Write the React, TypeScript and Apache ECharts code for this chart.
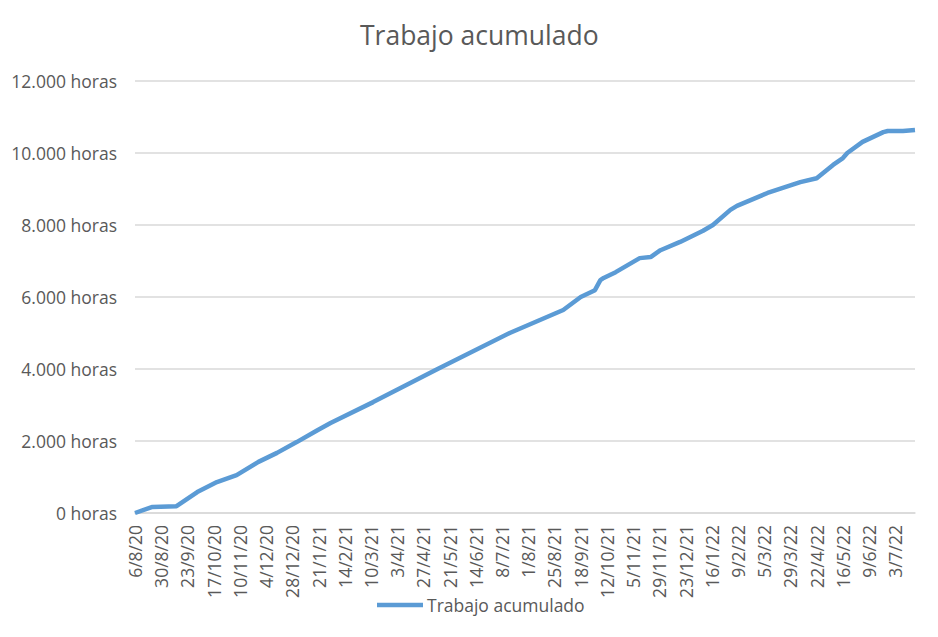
import React, { useEffect, useRef } from "react";
import * as echarts from "echarts";

const seriesName = "Trabajo acumulado";
const startDate = "2020-08-06";
const dates = [
  "2020-08-06", "2020-08-22", "2020-09-13", "2020-10-02", "2020-10-20", "2020-11-07",
  "2020-11-27", "2020-12-14", "2021-01-01", "2021-01-20", "2021-02-01", "2021-03-12",
  "2021-05-10", "2021-07-15", "2021-09-02", "2021-09-18", "2021-10-01", "2021-10-06",
  "2021-10-09", "2021-10-20", "2021-11-11", "2021-11-21", "2021-11-30", "2021-12-18",
  "2022-01-08", "2022-01-17", "2022-02-02", "2022-02-08", "2022-03-08", "2022-04-07",
  "2022-04-22", "2022-05-07", "2022-05-16", "2022-05-20", "2022-06-03", "2022-06-22",
  "2022-06-26", "2022-07-10", "2022-07-21",
];
const hours = [
  0, 170, 190, 580, 860, 1050,
  1420, 1670, 1970, 2300, 2500, 3080,
  4000, 5000, 5640, 6000, 6190, 6470,
  6530, 6690, 7080, 7110, 7300, 7530,
  7840, 8000, 8420, 8530, 8890, 9190,
  9300, 9670, 9860, 10000, 10310, 10580,
  10610, 10610, 10640,
];
const endDate = "2022-07-21";
const tickDays = 24;
const yTicks = [0, 2000, 4000, 6000, 8000, 10000, 12000];

const DAY = 86400000;
const toUTC = (s: string) => {
  const [y, m, d] = s.split("-").map(Number);
  return Date.UTC(y, m - 1, d);
};
const base = toUTC(startDate);
const dayIndex = (s: string) => Math.round((toUTC(s) - base) / DAY);
const fmtDay = (v: number) => {
  const d = new Date(base + v * DAY);
  return `${d.getUTCDate()}/${d.getUTCMonth() + 1}/${String(d.getUTCFullYear()).slice(2)}`;
};
const fmtHours = (v: number) =>
  `${String(v).replace(/\B(?=(\d{3})+(?!\d))/g, ".")} horas`;

const FONT = "'Open Sans', sans-serif";
const TEXT = "#595959";
const LABEL_SIZE = 17.5;

export default function App() {
  const ref = useRef<HTMLDivElement>(null);
  useEffect(() => {
    if (!ref.current) return;
    const chart = echarts.init(ref.current, undefined, { renderer: "svg" });
    chart.setOption({
      animation: false,
      backgroundColor: "#ffffff",
      textStyle: { fontFamily: FONT },
      title: {
        text: seriesName,
        left: 355,
        top: 16,
        textStyle: { fontFamily: FONT, fontSize: 26.5, fontWeight: "normal", color: TEXT },
      },
      legend: {
        bottom: 18,
        left: 372,
        icon: "rect",
        itemWidth: 46,
        itemHeight: 4.5,
        itemGap: 10,
        data: [seriesName],
        textStyle: { fontFamily: FONT, fontSize: LABEL_SIZE, color: TEXT, padding: [0, 0, 0, -1] },
      },
      grid: { left: 135, right: 23, top: 81, bottom: 124, containLabel: false },
      xAxis: {
        type: "value",
        min: 0,
        max: dayIndex(endDate),
        interval: tickDays,
        splitLine: { show: false },
        axisTick: { show: false },
        axisLine: { show: true, lineStyle: { color: "#D9D9D9", width: 1.5 } },
        axisLabel: {
          rotate: 90,
          margin: 12,
          fontFamily: FONT,
          fontSize: LABEL_SIZE,
          color: TEXT,
          showMaxLabel: false,
          formatter: (v: number) => fmtDay(v),
        },
      },
      yAxis: {
        type: "value",
        min: yTicks[0],
        max: yTicks[yTicks.length - 1],
        interval: yTicks[1] - yTicks[0],
        axisLine: { show: false },
        axisTick: { show: false },
        splitLine: { lineStyle: { color: "#D9D9D9", width: 1.5 } },
        axisLabel: {
          margin: 18,
          fontFamily: FONT,
          fontSize: LABEL_SIZE,
          color: TEXT,
          formatter: (v: number) => fmtHours(v),
        },
      },
      series: [
        {
          name: seriesName,
          type: "line",
          symbol: "none",
          lineStyle: { color: "#5B9BD5", width: 4.5 },
          itemStyle: { color: "#5B9BD5" },
          data: dates.map((d, i) => [dayIndex(d), hours[i]]),
        },
      ],
    });
    return () => chart.dispose();
  }, []);
  return (
    <div
      ref={ref}
      style={{ position: "fixed", left: 0, top: 0, width: 938, height: 637, background: "#fff" }}
    />
  );
}
